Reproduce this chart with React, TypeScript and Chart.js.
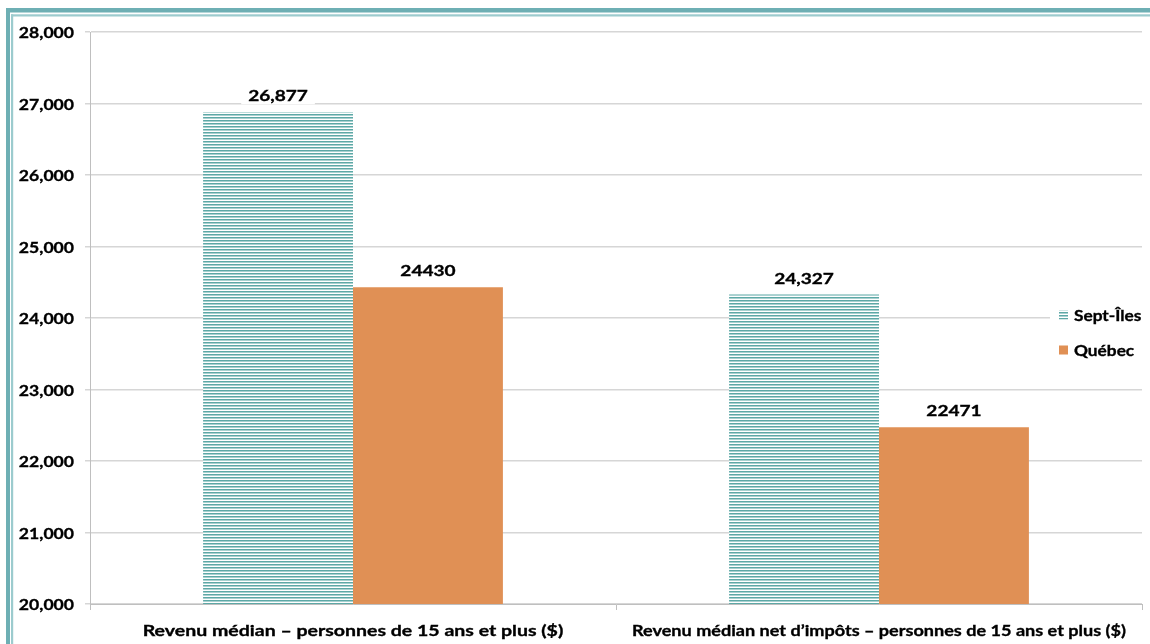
import React, { useEffect, useRef } from "react";
import { Chart, registerables } from "chart.js";

Chart.register(...registerables);

const categories = [
  "Revenu médian – personnes de 15 ans et plus ($)",
  "Revenu médian net d’impôts – personnes de 15 ans et plus ($)",
];
const seriesNames = ["Sept-Îles", "Québec"];
const septIles = [26877, 24327];
const quebec = [24430, 22471];
const septIlesLabels = ["26,877", "24,327"];
const quebecLabels = ["24430", "22471"];
const yTicks = [20000, 21000, 22000, 23000, 24000, 25000, 26000, 27000, 28000];

const FONT = "Lato, 'Open Sans', sans-serif";
const ORANGE = "#e09055";
const TEXT_FONT = `bold 16px ${FONT}`;
const CATEGORY_STRETCH = [1.22, 1.13];

function makePattern(): CanvasPattern | string {
  const c = document.createElement("canvas");
  c.width = 4;
  c.height = 3;
  const g = c.getContext("2d");
  if (!g) return "#7fb9b9";
  g.fillStyle = "#ffffff";
  g.fillRect(0, 0, 4, 3);
  g.fillStyle = "#5da8a6";
  g.fillRect(0, 0, 4, 1);
  g.fillStyle = "#a8d1d0";
  g.fillRect(0, 1, 4, 1);
  const p = g.createPattern(c, "repeat");
  return p || "#7fb9b9";
}

function drawStretched(
  ctx: CanvasRenderingContext2D,
  text: string,
  x: number,
  y: number,
  sx: number,
  align: CanvasTextAlign
) {
  ctx.save();
  ctx.translate(x, y);
  ctx.scale(sx, 1);
  ctx.textAlign = align;
  ctx.textBaseline = "middle";
  ctx.lineWidth = 0.35;
  ctx.strokeStyle = ctx.fillStyle;
  ctx.fillText(text, 0, 0);
  ctx.strokeText(text, 0, 0);
  ctx.restore();
}

export default function App() {
  const ref = useRef<HTMLCanvasElement | null>(null);

  useEffect(() => {
    const canvas = ref.current;
    if (!canvas) return;
    const pattern = makePattern();
    const labelSets = [septIlesLabels, quebecLabels];

    const framePlugin = {
      id: "frame",
      beforeDraw(chart: any) {
        const ctx = chart.ctx;
        ctx.save();
        ctx.fillStyle = "#ffffff";
        ctx.fillRect(0, 0, chart.width, chart.height);
        ctx.fillStyle = "#6eafb4";
        ctx.fillRect(6, 8, chart.width - 6, 4.5);
        ctx.fillRect(6, 8, 4, chart.height - 8);
        ctx.fillStyle = "#9ccbce";
        ctx.fillRect(11, 14.3, chart.width - 11, 2.2);
        ctx.fillRect(11, 14.3, 2.2, chart.height - 14);
        ctx.restore();
      },
    };

    const textPlugin = {
      id: "texts",
      afterDraw(chart: any) {
        const ctx = chart.ctx;
        ctx.save();
        ctx.font = TEXT_FONT;
        ctx.fillStyle = "#000000";
        // y tick labels
        const ys = chart.scales.y;
        yTicks.forEach((v) => {
          drawStretched(ctx, v.toLocaleString("en-US"), 74, ys.getPixelForValue(v) + 1, 1.1, "right");
        });
        // x category labels
        const xs = chart.scales.x;
        categories.forEach((c, i) => {
          drawStretched(ctx, c, xs.getPixelForTick(i), 631, CATEGORY_STRETCH[i], "center");
        });
        // value labels
        chart.data.datasets.forEach((_ds: any, di: number) => {
          const meta = chart.getDatasetMeta(di);
          meta.data.forEach((bar: any, i: number) => {
            const txt = labelSets[di][i];
            const w = ctx.measureText(txt).width * 1.19 + 14;
            const y = bar.y - 17;
            ctx.fillStyle = "#ffffff";
            ctx.fillRect(bar.x - w / 2, y - 9, w, 18);
            ctx.fillStyle = "#000000";
            drawStretched(ctx, txt, bar.x, y + 1, 1.19, "center");
          });
        });
        // legend
        ctx.fillStyle = "#ffffff";
        ctx.fillRect(1050, 300, 93, 64);
        const items = [
          { name: seriesNames[0], color: pattern, y: 315 },
          { name: seriesNames[1], color: ORANGE, y: 350 },
        ];
        items.forEach((it) => {
          ctx.fillStyle = it.color as any;
          ctx.fillRect(1059, it.y - 4.5, 9, 9);
          ctx.fillStyle = "#000000";
          drawStretched(ctx, it.name, 1074, it.y + 1, 1.08, "left");
        });
        ctx.restore();
      },
    };

    const chart = new Chart(canvas, {
      type: "bar",
      data: {
        labels: categories,
        datasets: [
          {
            label: seriesNames[0],
            data: septIles,
            backgroundColor: pattern as any,
            borderWidth: 0,
          },
          {
            label: seriesNames[1],
            data: quebec,
            backgroundColor: ORANGE,
            borderWidth: 0,
          },
        ],
      },
      options: {
        animation: false,
        responsive: false,
        maintainAspectRatio: false,
        layout: { padding: { left: 0, right: 8, top: 32, bottom: 0 } },
        plugins: {
          legend: { display: false },
          tooltip: { enabled: false },
          title: { display: false },
        },
        datasets: {
          bar: { categoryPercentage: 0.57, barPercentage: 1 },
        },
        scales: {
          x: {
            offset: true,
            grid: {
              display: true,
              drawOnChartArea: false,
              drawTicks: true,
              tickLength: 6,
              color: "#bfbfbf",
            },
            border: { display: true, color: "#bfbfbf" },
            ticks: {
              color: "rgba(0,0,0,0)",
              font: { family: FONT, size: 15, weight: "bold" },
              padding: 11,
              maxRotation: 0,
              autoSkip: false,
            },
            afterFit(scale: any) {
              scale.height = 40;
            },
          },
          y: {
            min: 20000,
            max: 28000,
            afterBuildTicks(scale: any) {
              scale.ticks = yTicks.map((v) => ({ value: v }));
            },
            grid: {
              color: "#d6d6d6",
              lineWidth: 1.5,
              tickLength: 5,
              drawTicks: true,
            },
            border: { display: true, color: "#bfbfbf" },
            ticks: {
              color: "rgba(0,0,0,0)",
              font: { family: FONT, size: 15, weight: "bold" },
              padding: 11,
              callback: (v: any) => Number(v).toLocaleString("en-US"),
            },
            afterFit(scale: any) {
              scale.width = 90;
            },
          },
        },
      },
      plugins: [framePlugin, textPlugin],
    });

    return () => chart.destroy();
  }, []);

  return (
    <div style={{ position: "fixed", left: 0, top: 0, width: 1150, height: 644 }}>
      <canvas ref={ref} width={1150} height={644} style={{ display: "block" }} />
    </div>
  );
}
